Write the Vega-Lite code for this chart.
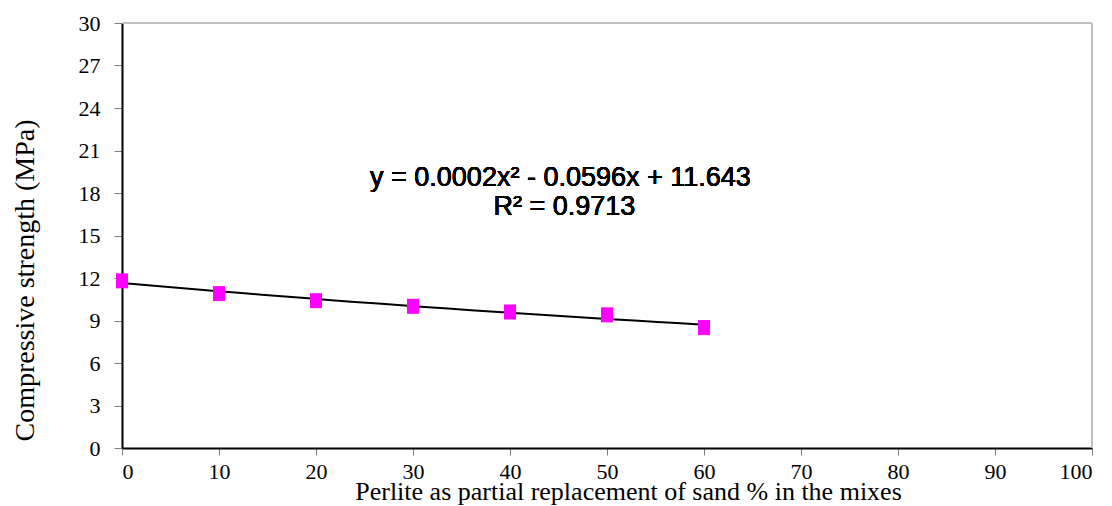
{
  "$schema": "https://vega.github.io/schema/vega-lite/v6.json",
  "width": 970,
  "height": 425,
  "autosize": {"type": "none"},
  "padding": {"left": 122, "top": 23, "right": 20, "bottom": 58},
  "background": "white",
  "config": {
    "view": {"stroke": null},
    "axis": {"grid": false, "labelFont": "Liberation Serif", "titleFont": "Liberation Serif", "labelColor": "black", "titleColor": "black", "titleFontWeight": "normal"}
  },
  "data": {"values": [
    {"x": 0, "y": 11.8},
    {"x": 10, "y": 10.9},
    {"x": 20, "y": 10.4},
    {"x": 30, "y": 10.0},
    {"x": 40, "y": 9.6},
    {"x": 50, "y": 9.4},
    {"x": 60, "y": 8.5}
  ]},
  "layer": [
    {
      "mark": {"type": "rule", "color": "#c0c0c0", "strokeWidth": 2},
      "encoding": {"y": {"datum": 30, "type": "quantitative"}}
    },
    {
      "mark": {"type": "rule", "color": "#c0c0c0", "strokeWidth": 2},
      "encoding": {"x": {"datum": 100, "type": "quantitative"}}
    },
    {
      "transform": [{"regression": "y", "on": "x", "method": "poly", "order": 2, "extent": [0, 60]}],
      "mark": {"type": "line", "color": "black", "strokeWidth": 2},
      "encoding": {
        "x": {"field": "x", "type": "quantitative"},
        "y": {"field": "y", "type": "quantitative"}
      }
    },
    {
      "mark": {"type": "point", "shape": "M-0.8,-1H0.8V1H-0.8Z", "filled": true, "color": "#ff00ff", "opacity": 1, "size": 225},
      "encoding": {
        "x": {
          "field": "x", "type": "quantitative",
          "scale": {"domain": [0, 100], "nice": false},
          "axis": {
            "values": [0, 10, 20, 30, 40, 50, 60, 70, 80, 90, 100],
            "title": "Perlite as partial replacement of sand % in the mixes",
            "labelFont": "Liberation Serif", "titleFont": "Liberation Serif",
            "domainColor": "black", "domainWidth": 2,
            "tickColor": "#808080", "tickSize": 7, "tickWidth": 1,
            "labelFontSize": 22, "labelPadding": 6,
            "titleFontSize": 26, "titleX": 506, "titleY": 51, "titleBaseline": "alphabetic"
          }
        },
        "y": {
          "field": "y", "type": "quantitative",
          "scale": {"domain": [0, 30], "nice": false},
          "axis": {
            "values": [0, 3, 6, 9, 12, 15, 18, 21, 24, 27, 30],
            "title": "Compressive strength (MPa)",
            "labelFont": "Liberation Serif", "titleFont": "Liberation Serif",
            "domainColor": "black", "domainWidth": 2,
            "tickColor": "#808080", "tickSize": 8, "tickWidth": 1,
            "labelFontSize": 22, "labelPadding": 14,
            "titleFontSize": 28, "titleAngle": -90, "titleX": -89, "titleY": 257, "titleBaseline": "alphabetic", "titleAlign": "center"
          }
        }
      }
    },
    {
      "mark": {"type": "text", "font": "Liberation Sans", "fontWeight": "normal", "fontSize": 27, "color": "black", "align": "center", "baseline": "alphabetic"},
      "encoding": {
        "x": {"datum": 45.2, "type": "quantitative"},
        "y": {"datum": 18.49, "type": "quantitative"},
        "text": {"value": "y = 0.0002x² - 0.0596x + 11.643"}
      }
    },
    {
      "mark": {"type": "text", "font": "Liberation Sans", "fontWeight": "normal", "fontSize": 27, "color": "black", "align": "center", "baseline": "alphabetic"},
      "encoding": {
        "x": {"datum": 45.6, "type": "quantitative"},
        "y": {"datum": 16.45, "type": "quantitative"},
        "text": {"value": "R² = 0.9713"}
      }
    }
  ]
}
